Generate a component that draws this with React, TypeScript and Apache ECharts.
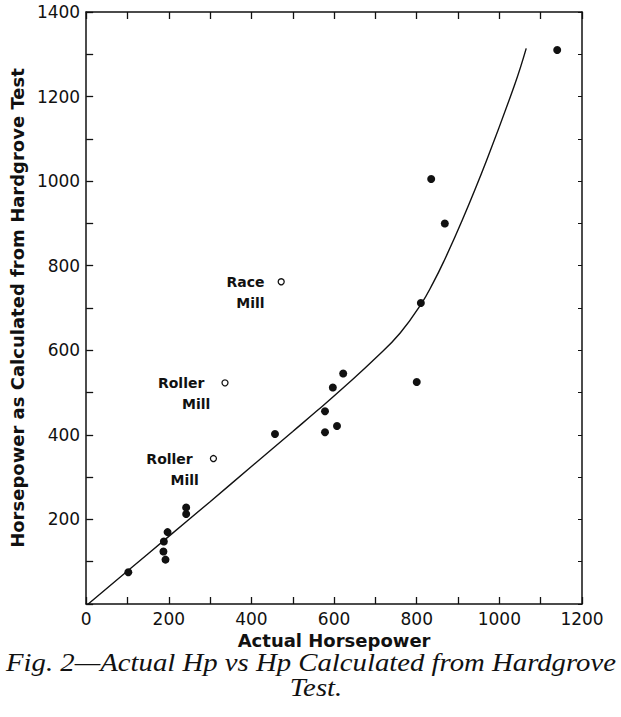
import React, { useEffect, useRef } from "react";
import * as echarts from "echarts";

const xTicks = [0, 1200, 100];
const yTicks = [0, 1400, 100];

// filled points: [actual hp, calculated hp]
const millPoints: [number, number][] = [
  [102, 75], [187, 124], [192, 105], [188, 148], [197, 170],
  [242, 213], [242, 228], [457, 402], [578, 406], [578, 456],
  [607, 421], [597, 512], [622, 545], [800, 525], [810, 712],
  [835, 1005], [868, 900], [1140, 1310],
];

// open circles (labelled)
const specialNames = ["Race|Mill", "Roller|Mill", "Roller|Mill"];
const specialPoints: [number, number][] = [[472, 762], [336, 523], [308, 344]];

// fitted curve
const curveX = [5, 100, 200, 300, 400, 500, 560, 623, 700, 760, 811, 840, 865, 909, 969, 1037, 1065];
const curveY = [0, 78, 160, 242, 325, 408, 458, 512, 581, 641, 710, 760, 809, 905, 1049, 1228, 1314];

const captionLines = ["Fig. 2—Actual Hp vs Hp Calculated from Hardgrove", "Test."];

const ink = "#111";
const sans = "DejaVu Sans";

export default function App() {
  const ref = useRef<HTMLDivElement>(null);
  useEffect(() => {
    if (!ref.current) return;
    const chart = echarts.init(ref.current, null, { renderer: "svg" });
    const axisCommon = {
      type: "value" as const,
      splitLine: { show: false },
      axisLine: { show: true, onZero: false, lineStyle: { color: ink, width: 1.5 } },
      axisTick: { show: true, inside: true, length: 7, lineStyle: { color: ink, width: 1.3 } },
    };
    const labelRich = (padRight: number) => ({
      a: { fontSize: 14, fontWeight: "bold", fontFamily: sans, color: ink, lineHeight: 21, padding: [0, padRight, 0, 0] },
      b: { fontSize: 14, fontWeight: "bold", fontFamily: sans, color: ink, lineHeight: 21 },
    });
    const captionStyle = (text: string) => ({
      text,
      font: 'italic 25px "Liberation Serif"',
      fill: ink,
      align: "center",
      textAlign: "center",
      verticalAlign: "middle",
      textVerticalAlign: "middle",
    });
    chart.setOption({
      animation: false,
      backgroundColor: "#fff",
      grid: { left: 79, right: 39, top: 12, bottom: 113, containLabel: false },
      xAxis: [
        {
          ...axisCommon,
          position: "bottom",
          min: xTicks[0], max: xTicks[1], interval: xTicks[2],
          axisLabel: {
            formatter: (v: number) => (v % 200 === 0 ? String(v) : ""),
            color: ink, fontSize: 17, fontFamily: sans, margin: 6,
          },
          name: "Actual Horsepower",
          nameLocation: "middle",
          nameGap: 24,
          nameTextStyle: { color: ink, fontSize: 18, fontWeight: "bold", fontFamily: sans },
        },
        {
          ...axisCommon,
          position: "top",
          min: xTicks[0], max: xTicks[1], interval: xTicks[2],
          axisLabel: { show: false },
        },
      ],
      yAxis: [
        {
          ...axisCommon,
          position: "left",
          min: yTicks[0], max: yTicks[1], interval: yTicks[2],
          axisLabel: {
            formatter: (v: number) => (v % 200 === 0 && v !== 0 ? String(v) : ""),
            color: ink, fontSize: 17, fontFamily: sans, margin: 6,
          },
          name: "Horsepower as Calculated from Hardgrove Test",
          nameLocation: "middle",
          nameGap: 59,
          nameTextStyle: { color: ink, fontSize: 18, fontWeight: "bold", fontFamily: sans },
        },
        {
          ...axisCommon,
          position: "right",
          min: yTicks[0], max: yTicks[1], interval: yTicks[2],
          axisTick: { show: true, inside: true, length: 4, lineStyle: { color: ink, width: 1 } },
          axisLabel: { show: false },
        },
      ],
      series: [
        {
          type: "line",
          data: curveX.map((x, i) => [x, curveY[i]]),
          showSymbol: false,
          smooth: 0.45,
          lineStyle: { color: ink, width: 1.4 },
          silent: true,
        },
        {
          type: "scatter",
          data: millPoints,
          symbol: "circle",
          symbolSize: 8,
          itemStyle: { color: ink, opacity: 1 },
        },
        {
          type: "scatter",
          symbol: "circle",
          symbolSize: 6,
          itemStyle: { color: "#fff", borderColor: ink, borderWidth: 1.3, opacity: 1 },
          data: specialPoints.map((p, i) => {
            const [a, b] = specialNames[i].split("|");
            const race = a === "Race";
            return {
              value: p,
              label: {
                show: true,
                position: "left",
                distance: race ? 13 : 11,
                offset: [0, 10.5],
                align: "right",
                color: ink,
                opacity: 1,
                formatter: `{a|${a}}\n{b|${b}}`,
                rich: labelRich(race ? 0 : 6),
              },
            };
          }),
        },
      ],
      graphic: [
        {
          type: "text",
          x: 311,
          y: 663,
          scaleX: 1.15,
          style: captionStyle(captionLines[0]),
        },
        {
          type: "text",
          x: 316,
          y: 688,
          scaleX: 1.15,
          style: captionStyle(captionLines[1]),
        },
      ],
    });
    return () => chart.dispose();
  }, []);
  return (
    <div
      ref={ref}
      style={{ position: "fixed", left: 0, top: 0, width: 621, height: 717 }}
    />
  );
}
